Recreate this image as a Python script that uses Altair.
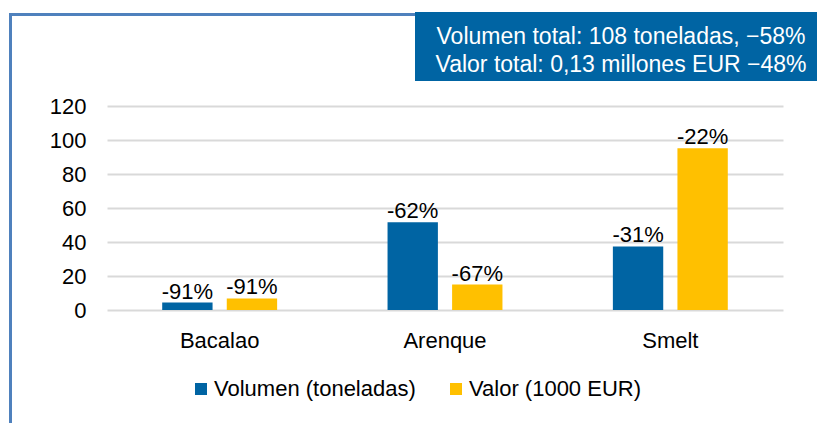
import altair as alt
import pandas as pd

categories = ["Bacalao", "Arenque", "Smelt"]
series = ["Volumen (toneladas)", "Valor (1000 EUR)"]
volumen = [4.4, 51.6, 37.4]
valor = [6.8, 15.0, 95.2]
volumen_labels = ["-91%", "-62%", "-31%"]
valor_labels = ["-91%", "-67%", "-22%"]
y_ticks = [0, 20, 40, 60, 80, 100, 120]
box_line_1 = "Volumen total: 108 toneladas, \u221258%"
box_line_2 = "Valor total: 0,13 millones EUR \u221248%"

rows = []
for i, c in enumerate(categories):
    rows.append({"cat": c, "serie": series[0], "v": volumen[i], "lab": volumen_labels[i]})
    rows.append({"cat": c, "serie": series[1], "v": valor[i], "lab": valor_labels[i]})
df = pd.DataFrame(rows)

FONT = "Liberation Sans"
FS = 23
BLUE = "#0064A3"
YELLOW = "#FFC000"

color = alt.Color("serie:N", sort=series,
                  scale=alt.Scale(domain=series, range=[BLUE, YELLOW]),
                  legend=alt.Legend(title=None, orient="none", legendX=83, legendY=272,
                                    direction="horizontal", symbolType="square",
                                    symbolSize=144, symbolStrokeWidth=0,
                                    labelFontSize=FS - 1, labelFont=FONT, labelColor="#000000",
                                    labelLimit=500,
                                    labelOffset=2, columnPadding=29, padding=0))

x = alt.X("cat:N", sort=categories, title=None,
          scale=alt.Scale(paddingInner=0.49, paddingOuter=0.245),
          axis=alt.Axis(labelAngle=0, labelFontSize=FS - 1, labelFont=FONT, labelColor="#000000",
                        domain=False, ticks=False, labelPadding=20, grid=False))
xoff = alt.XOffset("serie:N", sort=series, scale=alt.Scale(paddingInner=0.22, paddingOuter=0))
y = alt.Y("v:Q", title=None,
          scale=alt.Scale(domain=[0, 120], nice=False),
          axis=alt.Axis(values=y_ticks, labelFontSize=FS - 1, labelFont=FONT, labelColor="#000000",
                        labelOverlap=False, tickCount=7,
                        domain=False, ticks=False, labelPadding=21,
                        gridColor="#D9D9D9", gridWidth=2))

base = alt.Chart(df)
bars = base.mark_bar().encode(x=x, xOffset=xoff, y=y, color=color)
labels = base.mark_text(fontSize=FS - 1, font=FONT, color="#000000", baseline="alphabetic", dy=-4).encode(
    x=x, xOffset=xoff, y=y, text="lab:N")

one = pd.DataFrame({"a": [0]})
frame = alt.Chart(one).mark_rect(fillOpacity=0, stroke="#4F81BD", strokeWidth=3).encode(
    x=alt.value(-96.5), x2=alt.value(1000), y=alt.value(-91.5), y2=alt.value(1000))
box = alt.Chart(one).mark_rect(fill=BLUE).encode(
    x=alt.value(308), x2=alt.value(800), y=alt.value(-94), y2=alt.value(-25))
t1 = alt.Chart(one).mark_text(text=box_line_1, fontSize=FS, font=FONT, color="white",
                              align="center", baseline="middle").encode(
    x=alt.value(514), y=alt.value(-69))
t2 = alt.Chart(one).mark_text(text=box_line_2, fontSize=FS, font=FONT, color="white",
                              align="center", baseline="middle").encode(
    x=alt.value(514), y=alt.value(-41))

chart = alt.layer(frame, bars, labels, box, t1, t2).properties(
    width=676, height=204,
    padding={"left": 99, "top": 98, "right": 34, "bottom": 113},
    autosize=alt.AutoSizeParams(type="none"),
).configure_view(stroke=None)

chart.save("out.html", embed_options={"renderer": "svg", "actions": False})
